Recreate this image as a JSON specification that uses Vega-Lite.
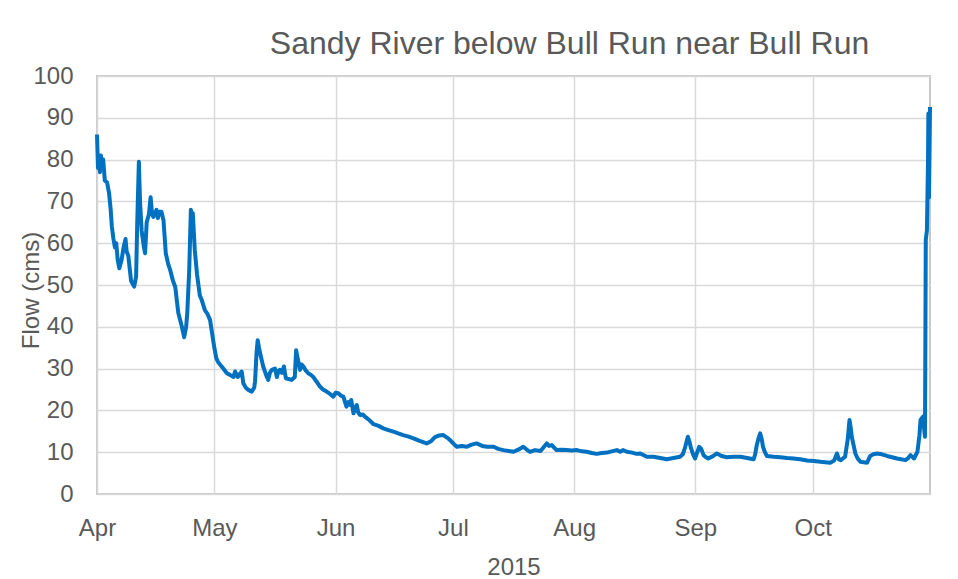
{
  "$schema": "https://vega.github.io/schema/vega-lite/v6.json",
  "width": 833,
  "height": 418,
  "autosize": {"type": "none"},
  "padding": {"left": 97, "top": 76, "right": 28, "bottom": 85},
  "background": "white",
  "title": {
    "text": "Sandy River below Bull Run near Bull Run",
    "font": "Liberation Sans",
    "fontSize": 32,
    "fontWeight": "normal",
    "color": "#595959",
    "anchor": "middle",
    "baseline": "alphabetic",
    "dx": 56,
    "dy": 35,
    "offset": 13
  },
  "config": {
    "view": {"stroke": "#c8c8c8", "strokeWidth": 2},
    "axis": {
      "labelFont": "Liberation Sans",
      "titleFont": "Liberation Sans",
      "labelFontSize": 24,
      "titleFontSize": 24,
      "labelColor": "#595959",
      "titleColor": "#595959",
      "titleFontWeight": "normal",
      "gridColor": "#d9d9d9",
      "gridWidth": 1.5,
      "domain": false,
      "ticks": false,
      "tickSize": 0
    }
  },
  "data": {
    "values": [
      {"t": "2015-04-01T00:00", "flow": 86},
      {"t": "2015-04-01T06:00", "flow": 78},
      {"t": "2015-04-01T12:00", "flow": 81},
      {"t": "2015-04-01T18:00", "flow": 77},
      {"t": "2015-04-02T00:00", "flow": 81},
      {"t": "2015-04-02T06:00", "flow": 78},
      {"t": "2015-04-02T14:00", "flow": 80},
      {"t": "2015-04-03T00:00", "flow": 75},
      {"t": "2015-04-03T14:00", "flow": 74.5},
      {"t": "2015-04-04T02:00", "flow": 72},
      {"t": "2015-04-04T12:00", "flow": 68},
      {"t": "2015-04-04T19:00", "flow": 64},
      {"t": "2015-04-05T05:00", "flow": 61},
      {"t": "2015-04-05T14:00", "flow": 59},
      {"t": "2015-04-05T22:00", "flow": 60},
      {"t": "2015-04-06T07:00", "flow": 56},
      {"t": "2015-04-06T17:00", "flow": 54},
      {"t": "2015-04-07T07:00", "flow": 56},
      {"t": "2015-04-07T19:00", "flow": 59},
      {"t": "2015-04-08T07:00", "flow": 61},
      {"t": "2015-04-08T14:00", "flow": 58},
      {"t": "2015-04-09T00:00", "flow": 57},
      {"t": "2015-04-09T17:00", "flow": 51},
      {"t": "2015-04-10T12:00", "flow": 49.6},
      {"t": "2015-04-11T00:00", "flow": 52},
      {"t": "2015-04-11T07:00", "flow": 65},
      {"t": "2015-04-11T17:00", "flow": 79.5},
      {"t": "2015-04-12T00:00", "flow": 70},
      {"t": "2015-04-12T10:00", "flow": 63},
      {"t": "2015-04-13T00:00", "flow": 59},
      {"t": "2015-04-13T07:00", "flow": 57.6},
      {"t": "2015-04-13T17:00", "flow": 65},
      {"t": "2015-04-14T07:00", "flow": 67},
      {"t": "2015-04-14T17:00", "flow": 71},
      {"t": "2015-04-15T02:00", "flow": 67},
      {"t": "2015-04-15T10:00", "flow": 66.3},
      {"t": "2015-04-16T05:00", "flow": 68},
      {"t": "2015-04-16T14:00", "flow": 66},
      {"t": "2015-04-17T00:00", "flow": 67.5},
      {"t": "2015-04-17T12:00", "flow": 67.5},
      {"t": "2015-04-18T00:00", "flow": 65.5},
      {"t": "2015-04-18T14:00", "flow": 57.6},
      {"t": "2015-04-19T05:00", "flow": 55},
      {"t": "2015-04-19T17:00", "flow": 53.6},
      {"t": "2015-04-20T10:00", "flow": 51},
      {"t": "2015-04-21T00:00", "flow": 49.6},
      {"t": "2015-04-21T19:00", "flow": 43.3},
      {"t": "2015-04-22T17:00", "flow": 40},
      {"t": "2015-04-23T07:00", "flow": 37.5},
      {"t": "2015-04-23T19:00", "flow": 40},
      {"t": "2015-04-24T02:00", "flow": 43.3},
      {"t": "2015-04-24T14:00", "flow": 53.6},
      {"t": "2015-04-25T00:00", "flow": 68},
      {"t": "2015-04-25T07:00", "flow": 66},
      {"t": "2015-04-25T12:00", "flow": 67.2},
      {"t": "2015-04-26T00:00", "flow": 58.4},
      {"t": "2015-04-26T14:00", "flow": 52.5},
      {"t": "2015-04-27T07:00", "flow": 47.5},
      {"t": "2015-04-27T19:00", "flow": 46.4},
      {"t": "2015-04-28T14:00", "flow": 44},
      {"t": "2015-04-29T07:00", "flow": 43},
      {"t": "2015-04-29T22:00", "flow": 41.6},
      {"t": "2015-04-30T12:00", "flow": 38},
      {"t": "2015-05-01T00:00", "flow": 35},
      {"t": "2015-05-01T12:00", "flow": 32.5},
      {"t": "2015-05-02T00:00", "flow": 31.5},
      {"t": "2015-05-02T12:00", "flow": 30.9},
      {"t": "2015-05-03T07:00", "flow": 30},
      {"t": "2015-05-04T05:00", "flow": 28.9},
      {"t": "2015-05-05T00:00", "flow": 28.5},
      {"t": "2015-05-05T22:00", "flow": 28},
      {"t": "2015-05-06T07:00", "flow": 29.3},
      {"t": "2015-05-07T00:00", "flow": 28},
      {"t": "2015-05-08T00:00", "flow": 29.3},
      {"t": "2015-05-08T10:00", "flow": 26.5},
      {"t": "2015-05-09T00:00", "flow": 25.5},
      {"t": "2015-05-09T17:00", "flow": 24.9},
      {"t": "2015-05-10T14:00", "flow": 24.5},
      {"t": "2015-05-11T05:00", "flow": 25.5},
      {"t": "2015-05-11T10:00", "flow": 27},
      {"t": "2015-05-11T19:00", "flow": 33.7},
      {"t": "2015-05-12T02:00", "flow": 36.8},
      {"t": "2015-05-12T10:00", "flow": 35},
      {"t": "2015-05-12T17:00", "flow": 33.7},
      {"t": "2015-05-13T12:00", "flow": 30.5},
      {"t": "2015-05-14T10:00", "flow": 28},
      {"t": "2015-05-14T19:00", "flow": 27.3},
      {"t": "2015-05-15T05:00", "flow": 29},
      {"t": "2015-05-15T17:00", "flow": 29.7},
      {"t": "2015-05-16T12:00", "flow": 30},
      {"t": "2015-05-17T00:00", "flow": 28},
      {"t": "2015-05-17T10:00", "flow": 29.5},
      {"t": "2015-05-17T19:00", "flow": 29.7},
      {"t": "2015-05-18T07:00", "flow": 29},
      {"t": "2015-05-18T19:00", "flow": 30.5},
      {"t": "2015-05-19T07:00", "flow": 27.7},
      {"t": "2015-05-20T00:00", "flow": 27.5},
      {"t": "2015-05-20T19:00", "flow": 27.3},
      {"t": "2015-05-21T14:00", "flow": 28},
      {"t": "2015-05-21T22:00", "flow": 34.4},
      {"t": "2015-05-22T05:00", "flow": 33},
      {"t": "2015-05-22T22:00", "flow": 29.7},
      {"t": "2015-05-23T07:00", "flow": 31},
      {"t": "2015-05-23T19:00", "flow": 30.5},
      {"t": "2015-05-24T10:00", "flow": 29.5},
      {"t": "2015-05-25T00:00", "flow": 28.9},
      {"t": "2015-05-25T17:00", "flow": 28.5},
      {"t": "2015-05-26T07:00", "flow": 28},
      {"t": "2015-05-27T05:00", "flow": 26.8},
      {"t": "2015-05-28T00:00", "flow": 25.7},
      {"t": "2015-05-28T19:00", "flow": 25},
      {"t": "2015-05-29T17:00", "flow": 24.5},
      {"t": "2015-05-30T12:00", "flow": 24},
      {"t": "2015-05-31T10:00", "flow": 23.3},
      {"t": "2015-06-01T00:00", "flow": 24.2},
      {"t": "2015-06-01T17:00", "flow": 24.1},
      {"t": "2015-06-02T10:00", "flow": 23.5},
      {"t": "2015-06-03T00:00", "flow": 23.3},
      {"t": "2015-06-03T19:00", "flow": 20.9},
      {"t": "2015-06-04T07:00", "flow": 22},
      {"t": "2015-06-04T17:00", "flow": 21.3},
      {"t": "2015-06-05T00:00", "flow": 22.5},
      {"t": "2015-06-05T14:00", "flow": 19.3},
      {"t": "2015-06-06T00:00", "flow": 20.5},
      {"t": "2015-06-06T10:00", "flow": 21.3},
      {"t": "2015-06-06T19:00", "flow": 19.5},
      {"t": "2015-06-07T07:00", "flow": 18.9},
      {"t": "2015-06-08T00:00", "flow": 19},
      {"t": "2015-06-08T12:00", "flow": 18.5},
      {"t": "2015-06-09T12:00", "flow": 17.8},
      {"t": "2015-06-10T17:00", "flow": 16.7},
      {"t": "2015-06-12T00:00", "flow": 16.3},
      {"t": "2015-06-13T05:00", "flow": 15.7},
      {"t": "2015-06-14T12:00", "flow": 15.3},
      {"t": "2015-06-15T19:00", "flow": 14.9},
      {"t": "2015-06-17T00:00", "flow": 14.5},
      {"t": "2015-06-18T07:00", "flow": 14.1},
      {"t": "2015-06-19T12:00", "flow": 13.8},
      {"t": "2015-06-20T22:00", "flow": 13.3},
      {"t": "2015-06-22T12:00", "flow": 12.7},
      {"t": "2015-06-24T07:00", "flow": 12.1},
      {"t": "2015-06-25T12:00", "flow": 12.7},
      {"t": "2015-06-26T10:00", "flow": 13.6},
      {"t": "2015-06-27T12:00", "flow": 14},
      {"t": "2015-06-28T14:00", "flow": 14.1},
      {"t": "2015-06-29T12:00", "flow": 13.5},
      {"t": "2015-06-30T07:00", "flow": 12.9},
      {"t": "2015-07-01T05:00", "flow": 12},
      {"t": "2015-07-02T00:00", "flow": 11.3},
      {"t": "2015-07-03T07:00", "flow": 11.5},
      {"t": "2015-07-04T14:00", "flow": 11.3},
      {"t": "2015-07-05T19:00", "flow": 11.8},
      {"t": "2015-07-07T02:00", "flow": 12.1},
      {"t": "2015-07-08T12:00", "flow": 11.5},
      {"t": "2015-07-09T19:00", "flow": 11.3},
      {"t": "2015-07-11T10:00", "flow": 11.3},
      {"t": "2015-07-12T14:00", "flow": 10.8},
      {"t": "2015-07-13T22:00", "flow": 10.5},
      {"t": "2015-07-15T05:00", "flow": 10.3},
      {"t": "2015-07-16T12:00", "flow": 10.1},
      {"t": "2015-07-17T17:00", "flow": 10.6},
      {"t": "2015-07-19T00:00", "flow": 11.3},
      {"t": "2015-07-19T19:00", "flow": 10.7},
      {"t": "2015-07-20T17:00", "flow": 10.1},
      {"t": "2015-07-22T00:00", "flow": 10.5},
      {"t": "2015-07-23T10:00", "flow": 10.3},
      {"t": "2015-07-25T00:00", "flow": 12.1},
      {"t": "2015-07-25T14:00", "flow": 11.5},
      {"t": "2015-07-26T07:00", "flow": 11.7},
      {"t": "2015-07-27T12:00", "flow": 10.5},
      {"t": "2015-07-28T19:00", "flow": 10.6},
      {"t": "2015-07-30T02:00", "flow": 10.5},
      {"t": "2015-07-31T10:00", "flow": 10.4},
      {"t": "2015-08-01T17:00", "flow": 10.5},
      {"t": "2015-08-03T00:00", "flow": 10.2},
      {"t": "2015-08-04T05:00", "flow": 10.1},
      {"t": "2015-08-05T12:00", "flow": 9.8},
      {"t": "2015-08-06T19:00", "flow": 9.6},
      {"t": "2015-08-08T02:00", "flow": 9.8},
      {"t": "2015-08-09T10:00", "flow": 9.9},
      {"t": "2015-08-10T14:00", "flow": 10.2},
      {"t": "2015-08-11T22:00", "flow": 10.5},
      {"t": "2015-08-12T19:00", "flow": 10.1},
      {"t": "2015-08-13T12:00", "flow": 10.5},
      {"t": "2015-08-14T12:00", "flow": 10.1},
      {"t": "2015-08-15T19:00", "flow": 9.9},
      {"t": "2015-08-17T00:00", "flow": 9.6},
      {"t": "2015-08-17T22:00", "flow": 9.7},
      {"t": "2015-08-19T14:00", "flow": 8.9},
      {"t": "2015-08-21T07:00", "flow": 8.9},
      {"t": "2015-08-23T00:00", "flow": 8.6},
      {"t": "2015-08-24T17:00", "flow": 8.3},
      {"t": "2015-08-26T10:00", "flow": 8.6},
      {"t": "2015-08-28T02:00", "flow": 8.9},
      {"t": "2015-08-28T19:00", "flow": 9.5},
      {"t": "2015-08-29T10:00", "flow": 11.3},
      {"t": "2015-08-30T02:00", "flow": 13.7},
      {"t": "2015-08-30T12:00", "flow": 12.5},
      {"t": "2015-08-30T19:00", "flow": 11.3},
      {"t": "2015-08-31T10:00", "flow": 9.5},
      {"t": "2015-08-31T22:00", "flow": 8.5},
      {"t": "2015-09-01T10:00", "flow": 9.8},
      {"t": "2015-09-02T00:00", "flow": 11.3},
      {"t": "2015-09-02T12:00", "flow": 10.8},
      {"t": "2015-09-03T02:00", "flow": 9.3},
      {"t": "2015-09-03T17:00", "flow": 8.8},
      {"t": "2015-09-04T07:00", "flow": 8.5},
      {"t": "2015-09-05T10:00", "flow": 9},
      {"t": "2015-09-06T12:00", "flow": 9.7},
      {"t": "2015-09-07T17:00", "flow": 9.1},
      {"t": "2015-09-09T00:00", "flow": 8.8},
      {"t": "2015-09-10T19:00", "flow": 8.9},
      {"t": "2015-09-12T12:00", "flow": 8.9},
      {"t": "2015-09-14T05:00", "flow": 8.6},
      {"t": "2015-09-15T22:00", "flow": 8.3},
      {"t": "2015-09-16T07:00", "flow": 9.5},
      {"t": "2015-09-16T17:00", "flow": 11.7},
      {"t": "2015-09-17T05:00", "flow": 13.5},
      {"t": "2015-09-17T14:00", "flow": 14.5},
      {"t": "2015-09-18T00:00", "flow": 13},
      {"t": "2015-09-18T07:00", "flow": 11.3},
      {"t": "2015-09-18T19:00", "flow": 10},
      {"t": "2015-09-19T07:00", "flow": 9.1},
      {"t": "2015-09-21T00:00", "flow": 8.9},
      {"t": "2015-09-22T17:00", "flow": 8.8},
      {"t": "2015-09-24T10:00", "flow": 8.6},
      {"t": "2015-09-26T02:00", "flow": 8.5},
      {"t": "2015-09-27T19:00", "flow": 8.3},
      {"t": "2015-09-29T14:00", "flow": 8},
      {"t": "2015-10-01T07:00", "flow": 7.9},
      {"t": "2015-10-03T00:00", "flow": 7.7},
      {"t": "2015-10-04T05:00", "flow": 7.6},
      {"t": "2015-10-05T12:00", "flow": 7.5},
      {"t": "2015-10-06T12:00", "flow": 8},
      {"t": "2015-10-07T05:00", "flow": 9.7},
      {"t": "2015-10-07T17:00", "flow": 8.3},
      {"t": "2015-10-08T05:00", "flow": 8.1},
      {"t": "2015-10-09T07:00", "flow": 8.9},
      {"t": "2015-10-10T00:00", "flow": 13.3},
      {"t": "2015-10-10T10:00", "flow": 17.7},
      {"t": "2015-10-10T17:00", "flow": 16},
      {"t": "2015-10-11T00:00", "flow": 13.7},
      {"t": "2015-10-11T12:00", "flow": 11.5},
      {"t": "2015-10-11T22:00", "flow": 9.7},
      {"t": "2015-10-12T12:00", "flow": 8.5},
      {"t": "2015-10-13T05:00", "flow": 7.7},
      {"t": "2015-10-14T00:00", "flow": 7.6},
      {"t": "2015-10-14T22:00", "flow": 7.5},
      {"t": "2015-10-15T17:00", "flow": 9.1},
      {"t": "2015-10-16T12:00", "flow": 9.5},
      {"t": "2015-10-17T12:00", "flow": 9.7},
      {"t": "2015-10-18T17:00", "flow": 9.5},
      {"t": "2015-10-20T00:00", "flow": 9.1},
      {"t": "2015-10-21T07:00", "flow": 8.8},
      {"t": "2015-10-22T14:00", "flow": 8.5},
      {"t": "2015-10-23T14:00", "flow": 8.3},
      {"t": "2015-10-24T17:00", "flow": 8.1},
      {"t": "2015-10-25T10:00", "flow": 8.6},
      {"t": "2015-10-26T00:00", "flow": 9.3},
      {"t": "2015-10-26T22:00", "flow": 8.5},
      {"t": "2015-10-27T19:00", "flow": 10.1},
      {"t": "2015-10-28T07:00", "flow": 14},
      {"t": "2015-10-28T14:00", "flow": 17.7},
      {"t": "2015-10-29T05:00", "flow": 18.5},
      {"t": "2015-10-29T17:00", "flow": 13.7},
      {"t": "2015-10-29T19:00", "flow": 30},
      {"t": "2015-10-29T22:00", "flow": 60.8},
      {"t": "2015-10-30T05:00", "flow": 63},
      {"t": "2015-10-30T12:00", "flow": 80},
      {"t": "2015-10-30T14:00", "flow": 91},
      {"t": "2015-10-30T18:00", "flow": 71},
      {"t": "2015-10-30T22:00", "flow": 85},
      {"t": "2015-10-31T00:00", "flow": 92.6}
    ]
  },
  "mark": {"type": "line", "color": "#0070c0", "strokeWidth": 4, "strokeJoin": "round"},
  "encoding": {
    "x": {
      "field": "t",
      "type": "temporal",
      "scale": {
        "domain": [
          {"year": 2015, "month": 4, "date": 1},
          {"year": 2015, "month": 10, "date": 31}
        ]
      },
      "axis": {
        "title": "2015",
        "format": "%b",
        "tickCount": {"interval": "month", "step": 1},
        "labelPadding": 22,
        "labelBaseline": "top",
        "labelAlign": "center",
        "labelFlush": false,
        "titleY": 80,
        "titleBaseline": "alphabetic"
      }
    },
    "y": {
      "field": "flow",
      "type": "quantitative",
      "scale": {"domain": [0, 100], "nice": false},
      "axis": {
        "title": "Flow (cms)",
        "values": [0, 10, 20, 30, 40, 50, 60, 70, 80, 90, 100],
        "labelPadding": 24,
        "titleX": -66,
        "titleY": 214,
        "titleBaseline": "middle",
        "titleAngle": -90
      }
    }
  }
}
